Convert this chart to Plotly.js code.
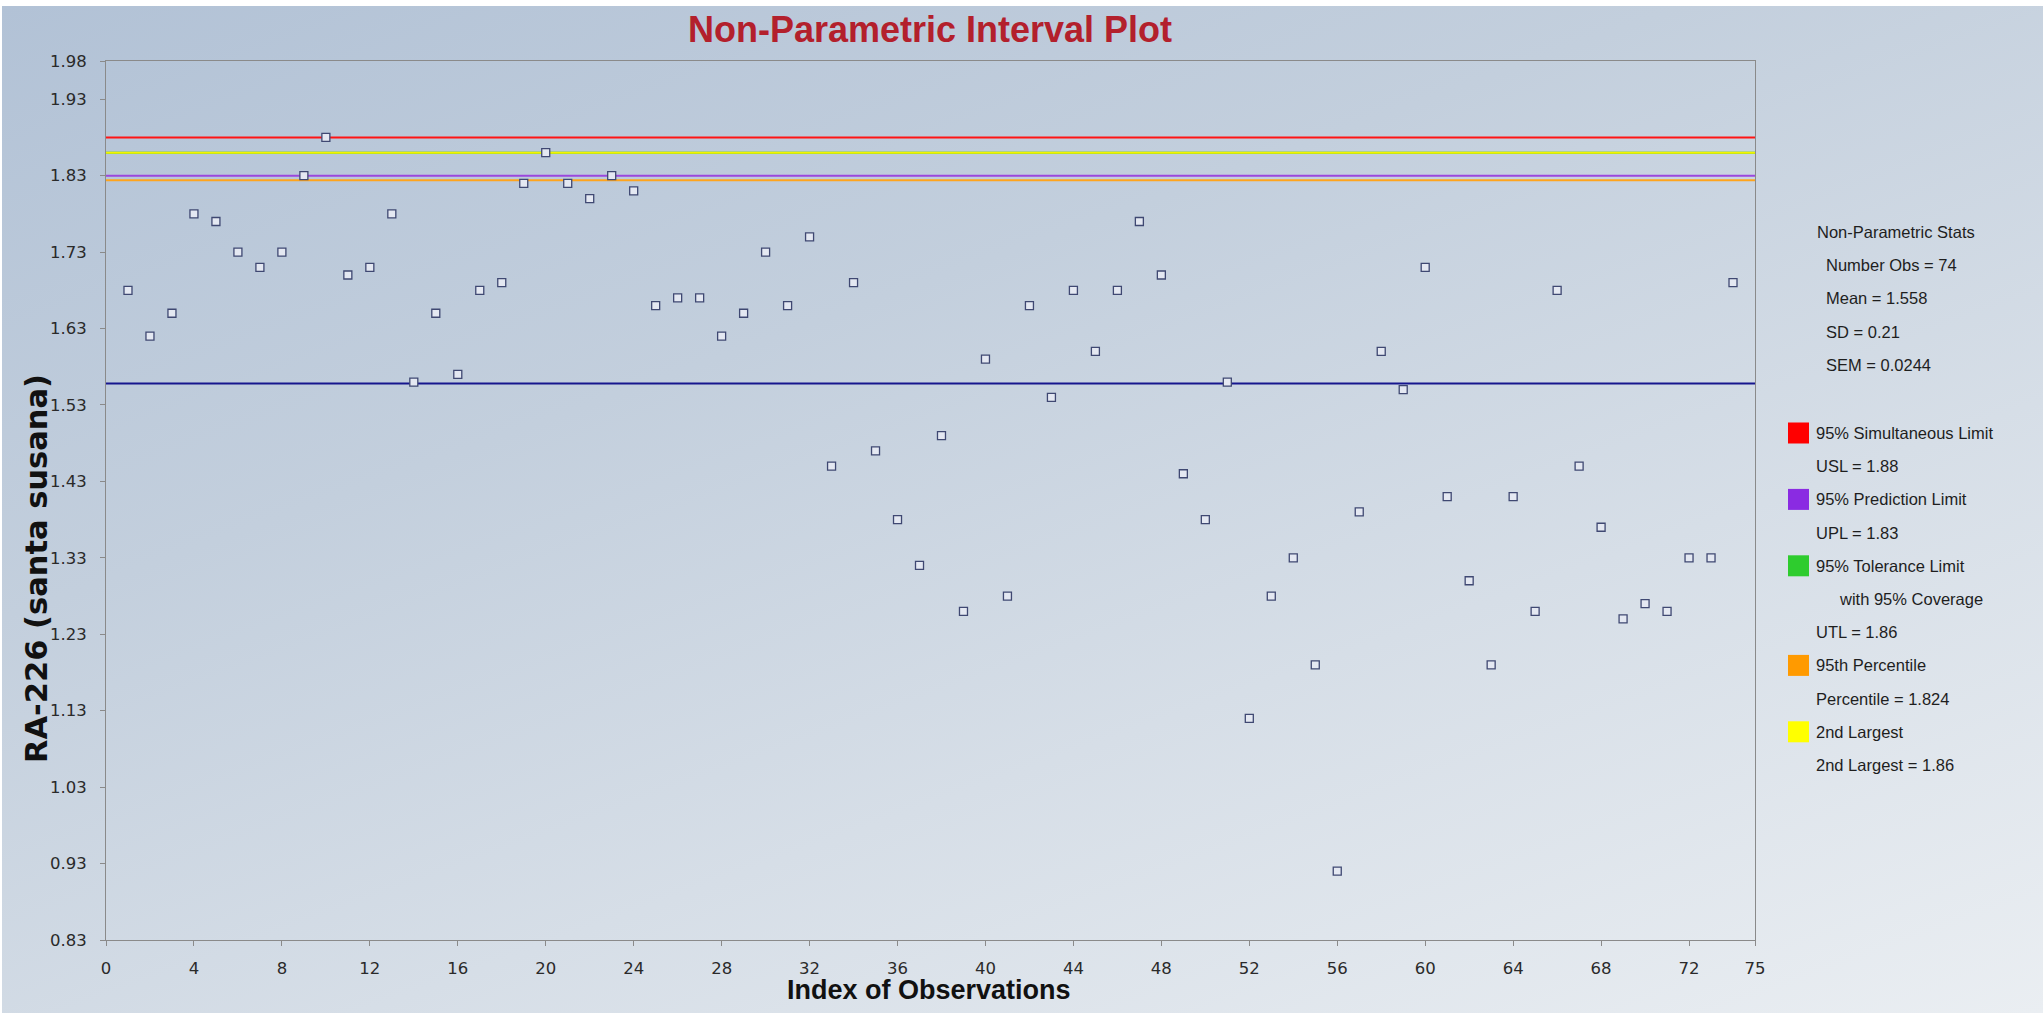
<!DOCTYPE html>
<html>
<head>
<meta charset="utf-8">
<script src="https://cdn.plot.ly/plotly-3.0.1.min.js"></script>
<style>
  html, body { margin: 0; padding: 0; background: #ffffff; width: 2043px; height: 1013px; overflow: hidden; }
  #bg { position: absolute; left: 2px; top: 6px; width: 2041px; height: 1007px;
        background: linear-gradient(160deg, #b2c2d6 0%, #c3cfdd 35%, #d6dee7 65%, #eaeef2 100%); }
  #chart { position: absolute; left: 0; top: 0; width: 2043px; height: 1013px; }
</style>
</head>
<body>
<div id="bg"></div>
<div id="chart"></div>
<script>
// ---------------- data ----------------
const obsIndex = [1,2,3,4,5,6,7,8,9,10,11,12,13,14,15,16,17,18,19,20,21,22,23,24,25,26,27,28,29,30,31,32,33,34,35,36,37,38,39,40,41,42,43,44,45,46,47,48,49,50,51,52,53,54,55,56,57,58,59,60,61,62,63,64,65,66,67,68,69,70,71,72,73,74];
const ra226 = [1.68,1.62,1.65,1.78,1.77,1.73,1.71,1.73,1.83,1.88,
               1.70,1.71,1.78,1.56,1.65,1.57,1.68,1.69,1.82,1.86,
               1.82,1.80,1.83,1.81,1.66,1.67,1.67,1.62,1.65,1.73,
               1.66,1.75,1.45,1.69,1.47,1.38,1.32,1.49,1.26,1.59,
               1.28,1.66,1.54,1.68,1.60,1.68,1.77,1.70,1.44,1.38,
               1.56,1.12,1.28,1.33,1.19,0.92,1.39,1.60,1.55,1.71,
               1.41,1.30,1.19,1.41,1.26,1.68,1.45,1.37,1.25,1.27,
               1.26,1.33,1.33,1.69];
const xTickVals = [0,4,8,12,16,20,24,28,32,36,40,44,48,52,56,60,64,68,72,75];
const yTickVals = [0.83,0.93,1.03,1.13,1.23,1.33,1.43,1.53,1.63,1.73,1.83,1.93,1.98];
const xRange = [0, 75];
const yRange = [0.83, 1.98];

const meanValue = 1.558;
const statsTitle = 'Non-Parametric Stats';
const statsLines = ['Number Obs = 74', 'Mean = 1.558', 'SD = 0.21', 'SEM = 0.0244'];

const limitKeys   = ['usl', 'upl', 'utl', 'pct', 'second'];
const limitNames  = ['95% Simultaneous Limit', '95% Prediction Limit', '95% Tolerance Limit', '95th Percentile', '2nd Largest'];
const limitSub    = ['', '', 'with 95% Coverage', '', ''];
const limitLabels = ['USL = 1.88', 'UPL = 1.83', 'UTL = 1.86', 'Percentile = 1.824', '2nd Largest = 1.86'];
const limitValues = [1.88, 1.83, 1.86, 1.824, 1.86];

const titleText = 'Non-Parametric Interval Plot';
const xTitleText = 'Index of Observations';
const yTitleText = 'RA-226 (santa susana)';

// ---------------- style ----------------
const lineColors = { usl: '#ff1414', upl: '#9b47dd', utl: '#22bb22', pct: '#ffa41c', second: '#f4f400' };
const swatchColors = { usl: '#ff0000', upl: '#8a2be2', utl: '#2ecc2e', pct: '#ff9a00', second: '#ffff00' };
const drawOrder = ['utl', 'second', 'usl', 'upl', 'pct'];

const W = 2043, H = 1013;
const M = { l: 106, r: 288, t: 61, b: 73 };
const PW = W - M.l - M.r, PH = H - M.t - M.b;
const px2x = px => (px - M.l) / PW;
const px2y = py => (H - M.b - py) / PH;

const tickFontFamily = 'DejaVu Sans, Verdana, sans-serif';
const legendFontFamily = 'Liberation Sans, Arial, sans-serif';

// ---------------- traces ----------------
const traces = [];
drawOrder.forEach(k => {
  const i = limitKeys.indexOf(k);
  traces.push({
    type: 'scatter', mode: 'lines',
    x: xRange, y: [limitValues[i], limitValues[i]],
    line: { color: lineColors[k], width: 2 },
    hoverinfo: 'skip', showlegend: false
  });
});
traces.push({
  type: 'scatter', mode: 'lines',
  x: xRange, y: [meanValue, meanValue],
  line: { color: '#16168e', width: 2 },
  hoverinfo: 'skip', showlegend: false
});
traces.push({
  type: 'scatter', mode: 'markers',
  x: obsIndex, y: ra226,
  marker: { symbol: 'square', size: 8, color: '#e4e8f2',
            line: { color: '#3f4872', width: 1.3 } },
  showlegend: false
});

// ---------------- annotations / shapes ----------------
const annotations = [];
const shapes = [];

annotations.push({
  xref: 'paper', yref: 'paper', x: px2x(929), y: px2y(990),
  text: '<b>' + xTitleText + '</b>', showarrow: false,
  xanchor: 'center', yanchor: 'middle',
  font: { family: 'Liberation Sans, Arial, sans-serif', size: 27, color: '#111111' }
});
annotations.push({
  xref: 'paper', yref: 'paper', x: px2x(36), y: px2y(569),
  text: '<b>' + yTitleText + '</b>', showarrow: false, textangle: -90,
  xanchor: 'center', yanchor: 'middle',
  font: { family: 'DejaVu Sans, Verdana, sans-serif', size: 30.5, color: '#111111' }
});

function addText(txt, px, py) {
  annotations.push({
    xref: 'paper', yref: 'paper', x: px2x(px), y: px2y(py),
    text: txt, showarrow: false, xanchor: 'left', yanchor: 'middle',
    font: { family: legendFontFamily, size: 16.5, color: '#1e1e1e' }
  });
}
const rowH = 33.2;
addText(statsTitle, 1815, 232);
statsLines.forEach((s, i) => addText(s, 1824, 232 + (i + 1) * rowH));

let yy = 433;
limitKeys.forEach((k, i) => {
  shapes.push({
    type: 'rect', xref: 'paper', yref: 'paper',
    x0: px2x(1788), x1: px2x(1809), y0: px2y(yy - 10.5), y1: px2y(yy + 10.5),
    fillcolor: swatchColors[k], line: { width: 0 }
  });
  addText(limitNames[i], 1814, yy);
  yy += rowH;
  if (limitSub[i]) { addText(limitSub[i], 1837, yy); yy += rowH; }
  addText(limitLabels[i], 1814, yy);
  yy += rowH;
});

// ---------------- layout ----------------
const axisFont = { family: tickFontFamily, size: 16.5, color: '#2a2a2a' };
const layout = {
  width: W, height: H,
  margin: M,
  paper_bgcolor: 'rgba(0,0,0,0)',
  plot_bgcolor: 'rgba(0,0,0,0)',
  title: {
    text: '<b>' + titleText + '</b>',
    font: { family: 'Liberation Sans, Arial, sans-serif', size: 36, color: '#b3202c' },
    x: px2x(930), xref: 'paper', xanchor: 'center',
    y: 1 - 29 / H, yref: 'container', yanchor: 'middle'
  },
  xaxis: {
    range: xRange, tickmode: 'array', tickvals: xTickVals,
    ticktext: xTickVals.map(v => String(v)),
    ticks: 'outside', ticklen: 5, tickcolor: '#8a8a8a', tickwidth: 1,
    ticklabelstandoff: 8,
    showline: true, linecolor: '#8a8a8a', linewidth: 1, mirror: true,
    showgrid: false, zeroline: false, tickfont: axisFont, fixedrange: true
  },
  yaxis: {
    range: yRange, tickmode: 'array', tickvals: yTickVals,
    ticktext: yTickVals.map(v => v.toFixed(2)),
    ticks: 'outside', ticklen: 5, tickcolor: '#8a8a8a', tickwidth: 1,
    ticklabelstandoff: 10,
    showline: true, linecolor: '#8a8a8a', linewidth: 1, mirror: true,
    showgrid: false, zeroline: false, tickfont: axisFont, fixedrange: true
  },
  annotations: annotations,
  shapes: shapes,
  showlegend: false
};

Plotly.newPlot('chart', traces, layout, { displayModeBar: false, staticPlot: true });
</script>
</body>
</html>
